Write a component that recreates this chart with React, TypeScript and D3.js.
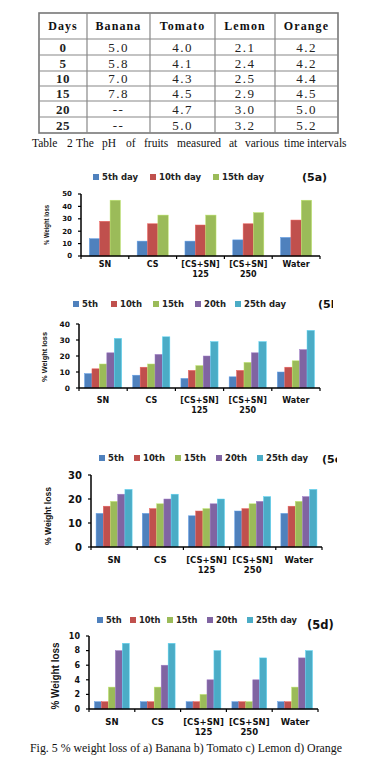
import React from 'react';
import * as d3 from 'd3';

// ---- table data ----
const tableHeaders = ['Days', 'Banana', 'Tomato', 'Lemon', 'Orange'];
const tableDays = ['0', '5', '10', '15', '20', '25'];
const bananaPH = ['5.0', '5.8', '7.0', '7.8', '--', '--'];
const tomatoPH = ['4.0', '4.1', '4.3', '4.5', '4.7', '5.0'];
const lemonPH = ['2.1', '2.4', '2.5', '2.9', '3.0', '3.2'];
const orangePH = ['4.2', '4.2', '4.4', '4.5', '5.0', '5.2'];

// ---- chart data ----
const categories = [['SN'], ['CS'], ['[CS+SN]', '125'], ['[CS+SN]', '250'], ['Water']];
const bananaSeries = ['5th day', '10th day', '15th day'];
const daySeries = ['5th', '10th', '15th', '20th', '25th day'];
// one row per category, one column per series
const bananaLoss = [[14, 28, 45], [12, 26, 33], [12, 25, 33], [13, 26, 35], [15, 29, 45]];
const tomatoLoss = [[9, 12, 15, 22, 31], [8, 13, 15, 21, 32], [6, 11, 14, 20, 29], [7, 11, 16, 22, 29], [10, 13, 17, 24, 36]];
const lemonLoss = [[14, 17, 19, 22, 24], [14, 16, 18, 20, 22], [13, 15, 16, 18, 20], [15, 16, 18, 19, 21], [14, 17, 19, 21, 24]];
const orangeLoss = [[1, 1, 3, 8, 9], [1, 1, 3, 6, 9], [1, 1, 2, 4, 8], [1, 1, 1, 4, 7], [1, 1, 3, 7, 8]];

const colors = ['#4F81BD', '#C0504D', '#9BBB59', '#8064A2', '#4BACC6'];

const chartFont = '"DejaVu Sans", Verdana, sans-serif';
const serif = '"Liberation Serif", "Times New Roman", serif';

// layout of each panel
const panels = [
  { id: 'a', series: bananaSeries, values: bananaLoss, max: 50, step: 10, x0: 81, x1: 320, yTop: 194, y0: 256, pad: 0.35,
    tickFont: 7, catFont: 8, catY: 267, legendY: 177, legendX: [93, 150, 213], legendFont: 8.5,
    tag: '(5a)', tagX: 302, tagY: 181, tagFont: 11, clip: 400, titleX: 47, titleY: 225, titleLen: 40, titleFont: 7 },
  { id: 'b', series: daySeries, values: tomatoLoss, max: 40, step: 10, x0: 79, x1: 320, yTop: 324, y0: 388, pad: 0.23,
    tickFont: 7.5, catFont: 8, catY: 403, legendY: 304, legendX: [73, 111, 153, 195, 235], legendFont: 8.5,
    tag: '(5b', tagX: 318, tagY: 308, tagFont: 11, clip: 333, titleX: 45, titleY: 357, titleLen: 50, titleFont: 7 },
  { id: 'c', series: daySeries, values: lemonLoss, max: 30, step: 10, x0: 91, x1: 322, yTop: 475, y0: 547, pad: 0.22,
    tickFont: 10, catFont: 8.5, catY: 563, legendY: 458, legendX: [99, 134, 175, 216, 257], legendFont: 8.5,
    tag: '(5c', tagX: 322, tagY: 463, tagFont: 11, clip: 337, titleX: 48, titleY: 516, titleLen: 58, titleFont: 8.5 },
  { id: 'd', series: daySeries, values: orangeLoss, max: 10, step: 2, x0: 89, x1: 318, yTop: 636, y0: 709, pad: 0.24,
    tickFont: 8, catFont: 8.5, catY: 725, legendY: 620, legendX: [97, 130, 167, 207, 247], legendFont: 8.3,
    tag: '(5d)', tagX: 307, tagY: 629, tagFont: 11.5, clip: 400, titleX: 55, titleY: 676, titleLen: 67, titleFont: 10 },
];

function Panel({ p }: { p: any }) {
  const x = d3.scaleBand<number>()
    .domain(d3.range(categories.length))
    .range([p.x0, p.x1])
    .paddingInner(p.pad)
    .paddingOuter(p.pad / 2);
  const inner = d3.scaleBand<number>()
    .domain(d3.range(p.series.length))
    .range([0, x.bandwidth()]);
  const y = d3.scaleLinear().domain([0, p.max]).range([p.y0, p.yTop]);
  const ticks = d3.range(0, p.max + p.step, p.step);
  const stepW = (p.x1 - p.x0) / categories.length;
  const boundaries = d3.range(categories.length + 1).map(i => p.x0 + i * stepW);

  return (
    <g>
      <defs>
        <clipPath id={`clip-${p.id}`}>
          <rect x={0} y={0} width={p.clip} height={768} />
        </clipPath>
      </defs>

      {/* legend */}
      {p.series.map((s: string, i: number) => (
        <g key={s}>
          <rect x={p.legendX[i]} y={p.legendY - 3} width={6} height={6} fill={colors[i]} />
          <text x={p.legendX[i] + 9} y={p.legendY + 3} fontSize={p.legendFont} fontWeight="bold"
            fontFamily={chartFont} fill="#222">{s}</text>
        </g>
      ))}
      <text x={p.tagX} y={p.tagY} fontSize={p.tagFont} fontWeight="bold" fontFamily={chartFont}
        fill="#111" clipPath={`url(#clip-${p.id})`}>{p.tag}</text>

      {/* bars */}
      {p.values.map((row: number[], ci: number) => row.map((v, si) => (
        <rect key={`${ci}-${si}`} x={(x(ci) as number) + (inner(si) as number)} y={y(v)}
          width={inner.bandwidth()} height={p.y0 - y(v)} fill={colors[si]}
          stroke={d3.color(colors[si])!.brighter(0.6).formatHex()} strokeWidth={0.5} />
      )))}

      {/* y axis */}
      <line x1={p.x0} x2={p.x0} y1={p.yTop} y2={p.y0} stroke="#000" strokeWidth={1.5} />
      {ticks.map(t => (
        <g key={t}>
          <line x1={p.x0 - 3} x2={p.x0} y1={y(t)} y2={y(t)} stroke="#000" strokeWidth={1.2} />
          <text x={p.x0 - 9} y={y(t)} dy="0.35em" textAnchor="end" fontSize={p.tickFont}
            fontWeight="bold" fontFamily={chartFont} fill="#111">{t}</text>
        </g>
      ))}
      <text transform={`translate(${p.titleX},${p.titleY}) rotate(-90)`} textAnchor="middle" dy="0.35em"
        fontSize={p.titleFont} fontWeight="bold" fontFamily='"Liberation Sans", Arial, sans-serif'
        textLength={p.titleLen} lengthAdjust="spacingAndGlyphs" fill="#111">% Weight loss</text>

      {/* x axis */}
      <line x1={p.x0} x2={p.x1} y1={p.y0} y2={p.y0} stroke="#000" strokeWidth={1.5} />
      {boundaries.map((b, i) => (
        <line key={i} x1={b} x2={b} y1={p.y0} y2={p.y0 + 3} stroke="#000" strokeWidth={1.2} />
      ))}
      {categories.map((lines, ci) => (
        <text key={ci} textAnchor="middle" fontSize={p.catFont} fontWeight="bold" fontFamily={chartFont} fill="#111">
          {lines.map((l, li) => (
            <tspan key={li} x={(x(ci) as number) + x.bandwidth() / 2} y={p.catY + li * 10}>{l}</tspan>
          ))}
        </text>
      ))}
    </g>
  );
}

const colEdges = [39, 87, 150, 215, 275, 338];
const rowEdges = [13, 39, 55, 71, 86, 101, 117, 133];
const captionWords = [
  ['Table', 32], ['2', 67], ['The', 76], ['pH', 102], ['of', 126], ['fruits', 144],
  ['measured', 177], ['at', 229], ['various', 245], ['time', 284], ['intervals', 307],
] as [string, number][];

function PhTable() {
  const cols = [tableDays, bananaPH, tomatoPH, lemonPH, orangePH];
  const cx = (i: number) => (colEdges[i] + colEdges[i + 1]) / 2;
  return (
    <g>
      <rect x={colEdges[0]} y={rowEdges[0]} width={colEdges[5] - colEdges[0]} height={rowEdges[7] - rowEdges[0]}
        fill="#fff" stroke="#777" strokeWidth={1.6} />
      {colEdges.slice(1, -1).map(c => (
        <line key={c} x1={c} x2={c} y1={rowEdges[0]} y2={rowEdges[7]} stroke="#888" strokeWidth={1.2} />
      ))}
      {rowEdges.slice(1, -1).map(r => (
        <line key={r} x1={colEdges[0]} x2={colEdges[5]} y1={r} y2={r} stroke="#888" strokeWidth={1.2} />
      ))}
      {tableHeaders.map((h, i) => (
        <text key={h} x={cx(i)} y={(rowEdges[0] + rowEdges[1]) / 2 + 4} textAnchor="middle" fontFamily={serif}
          fontWeight="bold" fontSize={12} letterSpacing={1.1} fill="#111">{h}</text>
      ))}
      {cols.map((col, ci) => col.map((v, ri) => (
        <text key={`${ci}-${ri}`} x={cx(ci)} y={(rowEdges[ri + 1] + rowEdges[ri + 2]) / 2 + 4.5} textAnchor="middle"
          fontFamily={serif} fontWeight={ci === 0 ? 'bold' : 'normal'} fontSize={13}
          letterSpacing={ci === 0 ? 0.5 : 1.5} fill="#222">{v}</text>
      )))}
      <text fontFamily={serif} fontSize={11.5} fill="#111">
        {captionWords.map(([w, wx]) => <tspan key={w} x={wx} y={147}>{w}</tspan>)}
      </text>
    </g>
  );
}

export default function App() {
  return (
    <div style={{ position: 'fixed', left: 0, top: 0, background: '#fff' }}>
      <svg width={387} height={768} style={{ display: 'block' }}>
        <rect width={387} height={768} fill="#fff" />
        <PhTable />
        {panels.map(p => <Panel key={p.id} p={p} />)}
        <text x={30} y={752} fontFamily={serif} fontSize={12.5} fill="#111" textLength={312}
          lengthAdjust="spacingAndGlyphs">Fig. 5 % weight loss of a) Banana b) Tomato c) Lemon d) Orange</text>
      </svg>
    </div>
  );
}
